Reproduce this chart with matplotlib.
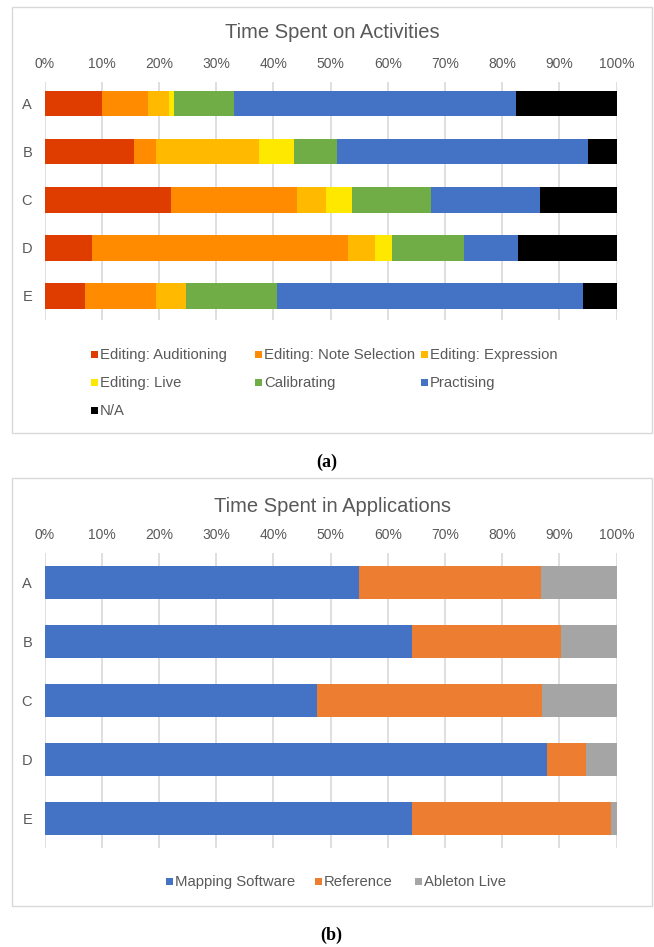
import numpy as np
import matplotlib.pyplot as plt
from matplotlib.patches import Rectangle
from matplotlib.transforms import Affine2D

participants = ['A', 'B', 'C', 'D', 'E']

# time per activity, percent of session
activity_labels = ['Editing: Auditioning', 'Editing: Note Selection', 'Editing: Expression',
                   'Editing: Live', 'Calibrating', 'Practising', 'N/A']
auditioning = [10.1, 15.7, 22.2, 8.3, 7.0]
note_selection = [8.0, 3.8, 22.0, 44.8, 12.5]
expression = [3.6, 18.0, 5.0, 4.6, 5.2]
live = [0.9, 6.2, 4.5, 3.0, 0.0]
calibrating = [10.5, 7.4, 13.9, 12.7, 16.0]
practising = [49.4, 44.0, 19.1, 9.4, 53.4]
not_applicable = [17.5, 4.9, 13.3, 17.2, 5.9]

# time per application, percent of session
app_labels = ['Mapping Software', 'Reference', 'Ableton Live']
mapping_software = [55.0, 64.3, 47.7, 87.8, 64.2]
reference = [31.8, 26.0, 39.2, 6.8, 34.9]
ableton_live = [13.2, 9.7, 13.1, 5.4, 0.9]

activity_colors = ['#DF3C00', '#FF8B00', '#FFBA00', '#FFE800', '#70AD47', '#4472C4', '#000000']
app_colors = ['#4472C4', '#ED7D31', '#A5A5A5']

W, H = 654, 947
GREY = '#595959'
plt.rcParams['font.family'] = ['Liberation Sans', 'DejaVu Sans']

fig = plt.figure(figsize=(W / 100, H / 100), dpi=100)
# pixel coordinates measured from the top-left corner
px = Affine2D().scale(1 / W, -1 / H).translate(0, 1) + fig.transFigure


def add_axes(x0, x1, y0, y1):
    return fig.add_axes([x0 / W, 1 - y1 / H, (x1 - x0) / W, (y1 - y0) / H])


def stacked_bars(ax, series, colors, height, ylim):
    pos = np.arange(len(participants))
    left = np.zeros(len(participants))
    for vals, color in zip(series, colors):
        ax.barh(pos, vals, left=left, height=height, color=color, linewidth=0, zorder=2)
        left += np.array(vals)
    ax.set_xlim(0, 100)
    ax.set_ylim(*ylim)
    ax.set_xticks(range(0, 101, 10))
    ax.set_xticklabels([f'{t}%' for t in range(0, 101, 10)])
    ax.xaxis.tick_top()
    ax.set_yticks(pos)
    ax.set_yticklabels(participants)
    ax.tick_params(axis='x', length=0, pad=8, labelsize=10, labelcolor=GREY)
    ax.tick_params(axis='y', length=0, pad=9, labelsize=10.5, labelcolor=GREY)
    ax.grid(axis='x', color='#D9D9D9', linewidth=1.2, zorder=0)
    ax.set_axisbelow(True)
    for s in ax.spines.values():
        s.set_visible(False)


def legend_entry(x, y, label, color):
    fig.add_artist(Rectangle((x, y - 3.5), 7, 7, transform=px, facecolor=color,
                             edgecolor='none'))
    fig.text(x + 9, y, label, transform=px, fontsize=10.7, color=GREY,
             ha='left', va='center')


def frame(y0, y1):
    fig.add_artist(Rectangle((12, y0), 640, y1 - y0, transform=px, facecolor='none',
                             edgecolor='#D9D9D9', linewidth=1))


# (a) activities
frame(7, 433)
fig.text(332, 33, 'Time Spent on Activities', transform=px, fontsize=14.5, color=GREY,
         ha='center', va='center')
ax1 = add_axes(44.5, 616.5, 82, 320)
stacked_bars(ax1, [auditioning, note_selection, expression, live, calibrating,
                   practising, not_applicable],
             activity_colors, 0.53, (4.5, -0.45))

slots = [(91, 355), (255, 355), (421, 355), (91, 383), (255, 383), (421, 383), (91, 411)]
for (x, y), label, color in zip(slots, activity_labels, activity_colors):
    legend_entry(x, y, label, color)

fig.text(327, 462, '(a)', transform=px, fontsize=13, fontweight='bold',
         family='Liberation Serif', ha='center', va='center')

# (b) applications
frame(478, 906)
fig.text(333, 507, 'Time Spent in Applications', transform=px, fontsize=14.5, color=GREY,
         ha='center', va='center')
ax2 = add_axes(44.5, 616.5, 553, 848)
stacked_bars(ax2, [mapping_software, reference, ableton_live], app_colors, 0.56, (4.5, -0.5))

for x, label, color in zip([166, 315, 415], app_labels, app_colors):
    legend_entry(x, 882, label, color)

fig.text(331, 935, '(b)', transform=px, fontsize=13, fontweight='bold',
         family='Liberation Serif', ha='center', va='center')

fig.savefig('out.png', dpi=100, facecolor='white')
